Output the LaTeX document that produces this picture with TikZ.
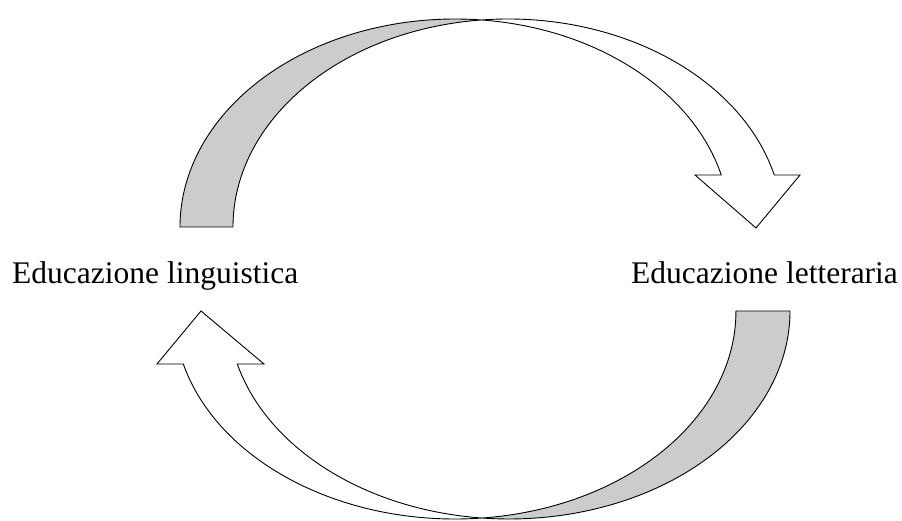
\documentclass[tikz,border=0pt]{standalone}
\usepackage{fontspec}
\setmainfont{Liberation Serif}
\usetikzlibrary{calc}
\begin{document}
\begin{tikzpicture}[x=1pt,y=1pt,
  facegray/.style={draw=black,line width=0.9pt,fill=black!20,line join=miter},
  facewhite/.style={draw=black,line width=0.9pt,fill=white,line join=miter},
  lbl/.style={inner sep=0pt,anchor=base west,font=\fontsize{31.5}{36}\selectfont}]
\useasboundingbox (0,0) rectangle (902,521);
% ---- top curved arrow (left -> right) ----
% ellipse A: centre (455,294), ellipse B: centre (508,294), rx=275, ry=208
\coordinate (tA) at (180,294);
\path[facegray] (tA) arc[start angle=180,end angle=84.47,x radius=275,y radius=208]
  arc[start angle=95.53,end angle=180,x radius=275,y radius=208] -- cycle;
\path[facewhite] ($(508,294)+(95.53:275 and 208)$) coordinate (tX)
  arc[start angle=95.53,end angle=14.48,x radius=275,y radius=208]
  -- (800,346) coordinate (tHR) -- (756,293) coordinate (tTip) -- (695,346) coordinate (tHL)
  -- ($(455,294)+(14.48:275 and 208)$)
  arc[start angle=14.48,end angle=84.47,x radius=275,y radius=208] -- cycle;
% ---- bottom curved arrow (right -> left) ----
% ellipse A': centre (509,210), ellipse B': centre (455,210), rx=281, ry=208
\coordinate (bA) at (790,210);
\path[facegray] (bA) arc[start angle=0,end angle=-95.52,x radius=281,y radius=208]
  arc[start angle=-84.48,end angle=0,x radius=281,y radius=208] -- cycle;
\path[facewhite] ($(455,210)+(-84.48:281 and 208)$) coordinate (bX)
  arc[start angle=-84.48,end angle=-165.24,x radius=281,y radius=208]
  -- (157,157) coordinate (bHL) -- (201,210) coordinate (bTip) -- (264,157) coordinate (bHR)
  -- ($(509,210)+(-165.24:281 and 208)$)
  arc[start angle=-165.24,end angle=-95.52,x radius=281,y radius=208] -- cycle;
% ---- labels ----
\node[lbl] (ling) at (12,237) {Educazione linguistica};
\node[lbl] (lett) at (631,237) {Educazione letteraria};
\end{tikzpicture}
\end{document}
